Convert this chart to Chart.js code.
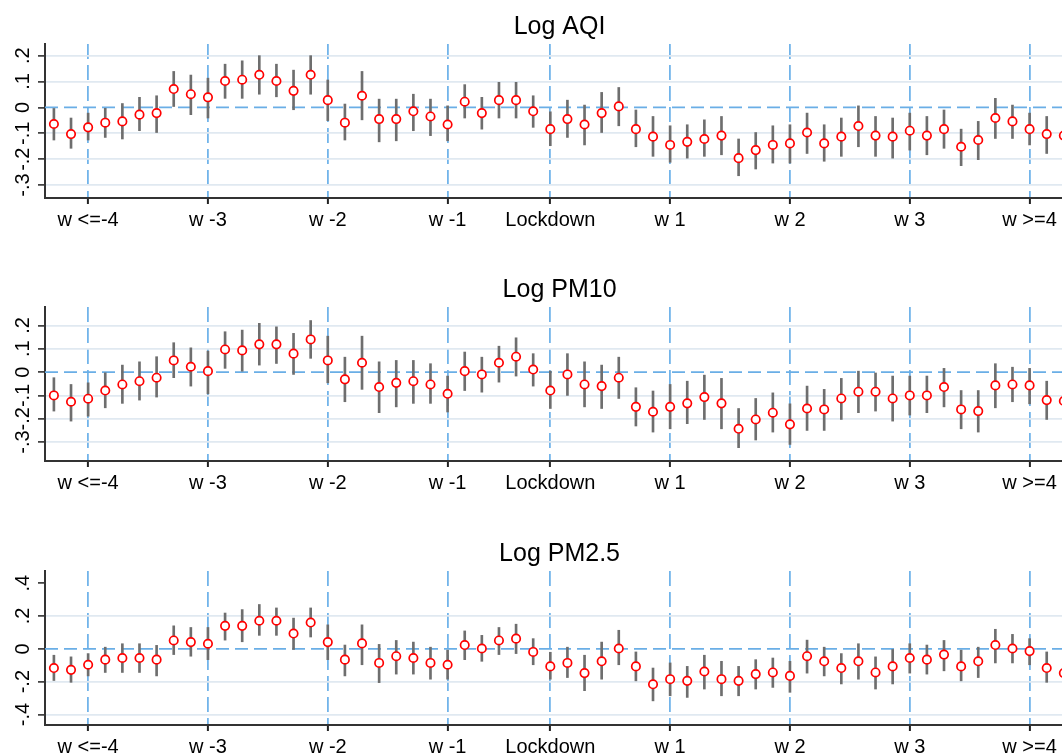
<!DOCTYPE html>
<html>
<head>
<meta charset="utf-8">
<script src="https://cdn.jsdelivr.net/npm/chart.js@4.4.1/dist/chart.umd.min.js"></script>
<style>
  html, body { margin: 0; padding: 0; background: #fff; overflow: hidden; }
  #wrap { position: relative; width: 1062px; height: 755px; overflow: hidden; }
  canvas { position: absolute; left: 0; }
</style>
</head>
<body>
<div id="wrap">
  <canvas id="aqi" width="1080" height="263" style="top:0px"></canvas>
  <canvas id="pm10" width="1080" height="263" style="top:263px"></canvas>
  <canvas id="pm25" width="1080" height="263" style="top:527px"></canvas>
</div>
<script>
// days relative to the start of the window (one point per day)
const days = [0, 1, 2, 3, 4, 5, 6, 7, 8, 9, 10, 11, 12, 13, 14, 15, 16, 17, 18, 19,
  20, 21, 22, 23, 24, 25, 26, 27, 28, 29, 30, 31, 32, 33, 34, 35, 36, 37, 38, 39,
  40, 41, 42, 43, 44, 45, 46, 47, 48, 49, 50, 51, 52, 53, 54, 55, 56, 57, 58, 59];

// week markers on the x axis
const weekPos = [2, 9, 16, 23, 29, 36, 43, 50, 57];
const weekLabels = ["w <=-4", "w -3", "w -2", "w -1", "Lockdown", "w 1", "w 2", "w 3", "w >=4"];

// Log AQI
const aqiEst = [-0.064, -0.103, -0.077, -0.059, -0.054, -0.028, -0.022, 0.071, 0.051, 0.039,
  0.102, 0.107, 0.126, 0.102, 0.064, 0.126, 0.028, -0.059, 0.045, -0.045,
  -0.045, -0.015, -0.035, -0.066, 0.022, -0.022, 0.028, 0.028, -0.015, -0.084,
  -0.045, -0.066, -0.022, 0.004, -0.084, -0.113, -0.145, -0.133, -0.122, -0.109,
  -0.196, -0.165, -0.145, -0.139, -0.097, -0.139, -0.113, -0.072, -0.109, -0.113,
  -0.09, -0.109, -0.084, -0.152, -0.126, -0.041, -0.054, -0.084, -0.103, -0.109];
const aqiLo = [-0.126, -0.158, -0.126, -0.116, -0.122, -0.09, -0.097, 0.0, -0.028, -0.041,
  0.035, 0.035, 0.051, 0.041, -0.009, 0.051, -0.051, -0.126, -0.048, -0.133,
  -0.129, -0.09, -0.109, -0.129, -0.041, -0.084, -0.041, -0.041, -0.077, -0.148,
  -0.116, -0.145, -0.097, -0.071, -0.152, -0.189, -0.212, -0.196, -0.189, -0.183,
  -0.264, -0.238, -0.215, -0.215, -0.178, -0.208, -0.189, -0.152, -0.189, -0.196,
  -0.165, -0.183, -0.158, -0.225, -0.202, -0.12, -0.12, -0.145, -0.178, -0.18];
const aqiHi = [-0.004, -0.041, -0.022, 0.0, 0.015, 0.039, 0.045, 0.139, 0.125, 0.113,
  0.167, 0.18, 0.2, 0.167, 0.144, 0.2, 0.106, 0.013, 0.139, 0.032,
  0.032, 0.051, 0.032, 0.006, 0.088, 0.039, 0.097, 0.097, 0.045, -0.017,
  0.028, 0.009, 0.058, 0.077, -0.01, -0.035, -0.071, -0.067, -0.048, -0.035,
  -0.122, -0.097, -0.071, -0.067, -0.022, -0.067, -0.041, 0.006, -0.035, -0.041,
  -0.022, -0.035, -0.01, -0.084, -0.054, 0.035, 0.009, -0.022, -0.035, -0.048];

// Log PM10
const pm10Est = [-0.1, -0.127, -0.114, -0.079, -0.053, -0.039, -0.024, 0.05, 0.023, 0.004,
  0.097, 0.093, 0.119, 0.119, 0.079, 0.14, 0.05, -0.031, 0.04, -0.064,
  -0.046, -0.039, -0.053, -0.093, 0.004, -0.01, 0.04, 0.066, 0.011, -0.079,
  -0.01, -0.053, -0.06, -0.024, -0.149, -0.17, -0.149, -0.134, -0.107, -0.134,
  -0.243, -0.203, -0.174, -0.224, -0.156, -0.16, -0.113, -0.084, -0.084, -0.113,
  -0.1, -0.1, -0.064, -0.16, -0.167, -0.057, -0.053, -0.057, -0.12, -0.124];
const pm10Lo = [-0.167, -0.21, -0.189, -0.153, -0.134, -0.12, -0.107, -0.024, -0.06, -0.093,
  0.016, 0.0, 0.03, 0.037, -0.01, 0.059, -0.046, -0.127, -0.074, -0.174,
  -0.149, -0.134, -0.134, -0.171, -0.079, -0.086, -0.043, -0.017, -0.06, -0.156,
  -0.1, -0.149, -0.156, -0.113, -0.231, -0.257, -0.243, -0.221, -0.203, -0.243,
  -0.324, -0.291, -0.257, -0.31, -0.25, -0.25, -0.203, -0.174, -0.167, -0.21,
  -0.184, -0.174, -0.149, -0.243, -0.257, -0.153, -0.127, -0.136, -0.203, -0.196];
const pm10Hi = [-0.024, -0.053, -0.046, -0.003, 0.03, 0.044, 0.066, 0.126, 0.104, 0.09,
  0.173, 0.18, 0.209, 0.194, 0.166, 0.221, 0.154, 0.064, 0.154, 0.044,
  0.05, 0.05, 0.036, -0.017, 0.086, 0.064, 0.111, 0.147, 0.079, 0.004,
  0.079, 0.044, 0.03, 0.064, -0.067, -0.081, -0.053, -0.039, -0.013, -0.027,
  -0.156, -0.113, -0.089, -0.136, -0.06, -0.074, -0.027, 0.004, 0.0, -0.017,
  -0.017, -0.017, 0.016, -0.079, -0.079, 0.036, 0.021, 0.016, -0.039, -0.06];

// Log PM2.5
const pm25Est = [-0.117, -0.128, -0.097, -0.066, -0.056, -0.056, -0.066, 0.051, 0.041, 0.031,
  0.14, 0.14, 0.171, 0.171, 0.093, 0.16, 0.041, -0.066, 0.033, -0.086,
  -0.045, -0.056, -0.086, -0.097, 0.023, 0.002, 0.051, 0.062, -0.019, -0.107,
  -0.086, -0.148, -0.076, 0.002, -0.107, -0.216, -0.185, -0.195, -0.138, -0.185,
  -0.195, -0.154, -0.144, -0.165, -0.045, -0.076, -0.117, -0.076, -0.144, -0.107,
  -0.056, -0.066, -0.035, -0.107, -0.076, 0.023, 0.002, -0.014, -0.117, -0.148];
const pm25Lo = [-0.193, -0.204, -0.165, -0.144, -0.144, -0.144, -0.165, -0.035, -0.045, -0.066,
  0.053, 0.043, 0.082, 0.082, -0.004, 0.072, -0.066, -0.165, -0.097, -0.206,
  -0.154, -0.154, -0.185, -0.185, -0.066, -0.076, -0.035, -0.029, -0.097, -0.185,
  -0.175, -0.255, -0.185, -0.097, -0.195, -0.317, -0.286, -0.296, -0.245, -0.286,
  -0.286, -0.245, -0.235, -0.265, -0.148, -0.165, -0.214, -0.185, -0.245, -0.214,
  -0.148, -0.154, -0.134, -0.195, -0.175, -0.086, -0.086, -0.097, -0.204, -0.22];
const pm25Hi = [-0.039, -0.049, -0.029, 0.01, 0.031, 0.031, 0.021, 0.14, 0.13, 0.13,
  0.218, 0.239, 0.27, 0.249, 0.187, 0.249, 0.146, 0.023, 0.146, 0.027,
  0.051, 0.041, 0.01, -0.008, 0.109, 0.082, 0.13, 0.15, 0.062, -0.021,
  0.01, -0.039, 0.041, 0.113, -0.019, -0.117, -0.086, -0.107, -0.039, -0.076,
  -0.107, -0.066, -0.056, -0.076, 0.053, 0.01, -0.029, 0.031, -0.049, -0.004,
  0.031, 0.023, 0.051, -0.008, 0.01, 0.119, 0.088, 0.062, -0.019, -0.05];

// y tick values for each panel
const ticksSmall = [-0.3, -0.2, -0.1, 0, 0.1, 0.2];
const ticksPm25 = [-0.4, -0.2, 0, 0.2, 0.4];

const xMin = -0.52;
const xMax = 59.6;
const font = "'Liberation Sans', Arial, sans-serif";

// Stata style labels: .2, -.1, 0
function stataLabel(v) {
  if (Math.abs(v) < 1e-9) return "0";
  return (v < 0 ? "-" : "") + Math.abs(v).toFixed(1).replace(/^0/, "");
}

function makePanel(id, title, est, lo, hi, yMin, yMax, yTicks, noGrid) {
  const points = days.map((d, i) => ({ x: d, y: est[i] }));
  const bars = days.map((d, i) => ({ x: d, y: [lo[i], hi[i]] }));
  const zeroLine = [{ x: xMin, y: 0 }, { x: xMax, y: 0 }];

  return new Chart(document.getElementById(id), {
    type: "scatter",
    data: {
      datasets: [
        {
          type: "scatter",
          data: points,
          pointStyle: "circle",
          pointRadius: 4.2,
          pointBorderWidth: 1.7,
          borderColor: "#ff0000",
          backgroundColor: "#ffffff",
        },
        {
          type: "bar",
          data: bars,
          backgroundColor: "#6e6e6e",
          barThickness: 2,
          borderWidth: 0,
        },
        {
          type: "line",
          data: zeroLine,
          borderColor: "#6aaee6",
          borderWidth: 1.8,
          borderDash: [13, 6],
          pointRadius: 0,
        },
      ],
    },
    options: {
      responsive: false,
      animation: false,
      layout: { padding: 0 },
      plugins: {
        legend: { display: false },
        tooltip: { enabled: false },
        title: {
          display: true,
          text: title,
          fullSize: false,
          color: "#000",
          font: { family: font, size: 25, weight: "normal" },
          padding: { top: 12, bottom: 2 },
        },
      },
      scales: {
        x: {
          type: "linear",
          min: xMin,
          max: xMax,
          offset: false,
          afterBuildTicks: (s) => { s.ticks = weekPos.map((v) => ({ value: v })); },
          afterFit: (s) => { s.height = 65; },
          ticks: {
            autoSkip: false,
            maxRotation: 0,
            color: "#000",
            padding: 4,
            font: { family: font, size: 20 },
            callback: (v, i) => weekLabels[i],
          },
          grid: {
            offset: false,
            color: "#72b4ea",
            lineWidth: 1.8,
            tickColor: "#222",
            tickLength: 6,
            tickWidth: 2,
            tickBorderDash: [],
          },
          border: { color: "#333", width: 2, dash: [15, 6] },
        },
        y: {
          min: yMin,
          max: yMax,
          afterBuildTicks: (s) => { s.ticks = yTicks.map((v) => ({ value: v })); },
          afterFit: (s) => { s.width = 45; },
          ticks: {
            minRotation: 90,
            maxRotation: 90,
            crossAlign: "center",
            padding: 3,
            color: "#000",
            font: { family: font, size: 20 },
            callback: (v) => stataLabel(v),
          },
          grid: {
            color: (ctx) => {
              const v = ctx.tick ? ctx.tick.value : 1;
              if (Math.abs(v) < 1e-9 || noGrid.includes(v)) return "rgba(0,0,0,0)";
              return "#e0e9f1";
            },
            lineWidth: 1.8,
            tickColor: "#222",
            tickLength: 7,
            tickWidth: 1.5,
          },
          border: { color: "#333", width: 2 },
        },
      },
    },
  });
}

makePanel("aqi", "Log AQI", aqiEst, aqiLo, aqiHi, -0.35, 0.245, ticksSmall, []);
makePanel("pm10", "Log PM10", pm10Est, pm10Lo, pm10Hi, -0.381, 0.279, ticksSmall, []);
makePanel("pm25", "Log PM2.5", pm25Est, pm25Lo, pm25Hi, -0.464, 0.474, ticksPm25, [0.4]);
</script>
</body>
</html>
